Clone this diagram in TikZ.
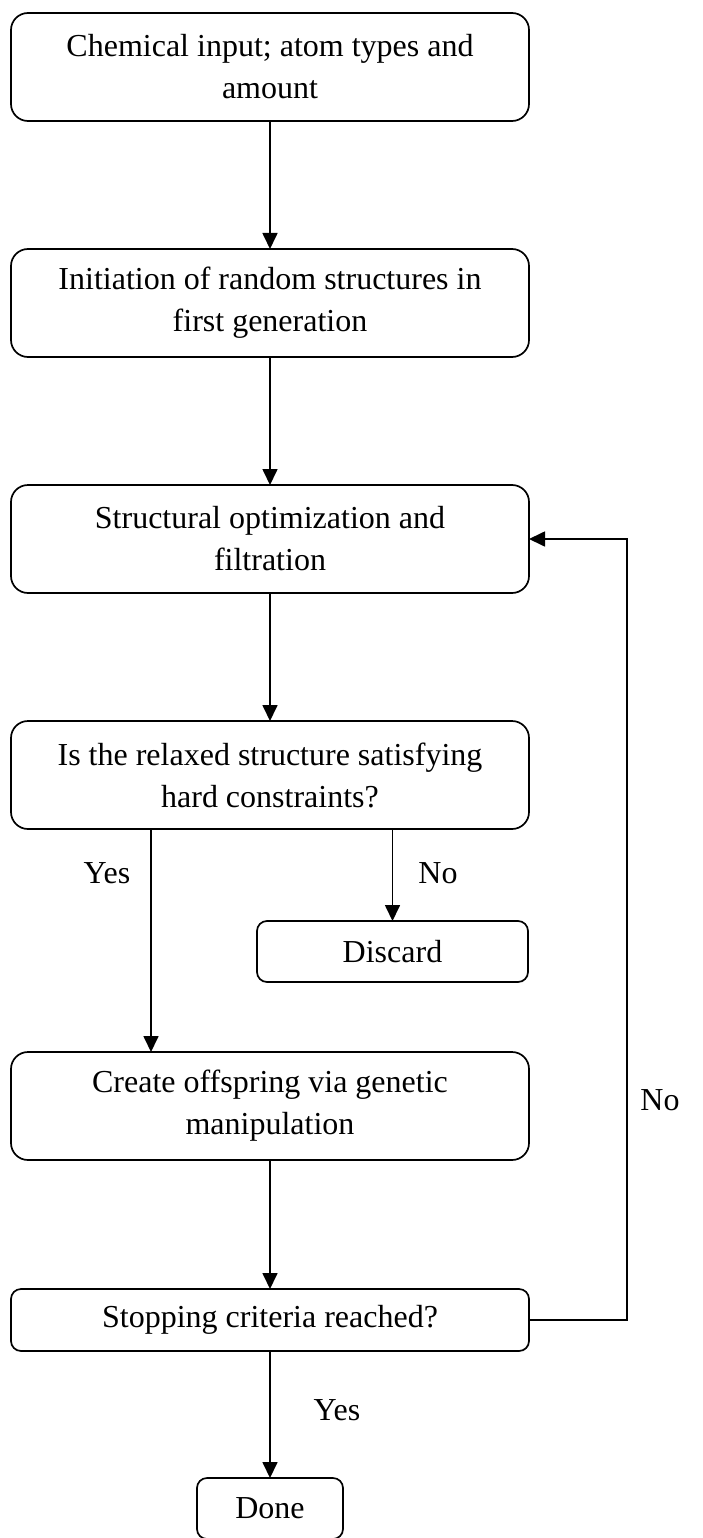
\documentclass[tikz,border=0pt]{standalone}
\usepackage{fontspec}
\setmainfont{Liberation Serif}
\usetikzlibrary{positioning}
\usetikzlibrary{chains,arrows.meta}
\tikzset{
  every node/.style={font=\fontsize{32pt}{42pt}\selectfont, outer sep=0pt},
  procbox/.style={draw, line width=1.7pt, rounded corners=17pt, align=center,
    minimum width=518pt, minimum height=108pt, inner sep=0pt},
  smallbox/.style={draw, line width=1.7pt, rounded corners=10pt, align=center,
    minimum height=61pt, inner sep=0pt},
  arr/.style={line width=1.7pt, -{Triangle[length=16pt,width=15pt]}}
}
\begin{document}
\begin{tikzpicture}[x=1pt, y=1pt, start chain=1 going below, node distance=128pt]
  \useasboundingbox (0,0) rectangle (703,-1538);

  \node [on chain=1, procbox] (b1) at (270,-67) {Chemical input; atom types and\\amount};
  \foreach \name/\txt in {b2/{Initiation of random structures in\\first generation},b3/{Structural optimization and\\filtration},b4/{Is the relaxed structure satisfying\\hard constraints?}} {
    \node [on chain=1, procbox] (\name) {\txt};
  }

  \node [procbox, below=223pt of b4] (b5) {Create offspring via genetic\\manipulation};
  \node [procbox, minimum height=62pt, rounded corners=10pt, below=129pt of b5] (stop) {Stopping criteria reached?};
  \node [smallbox, minimum width=146pt, below=127pt of stop] (done) {Done};
  \node [smallbox, minimum width=271pt] (discard) at (392.5,-951.5) {Discard};
  \coordinate (yesx) at (151,0);

  \draw [arr] (b1) -- (b2);
  \draw [arr] (b2) -- (b3);
  \draw [arr] (b3) -- (b4);
  \draw [arr] (b4.south -| yesx) -- (b5.north -| yesx);
  \draw [arr] (b4.south -| discard) -- (discard);
  \draw [arr] (b5) -- (stop);
  \draw [arr] (stop) -- (done);
  \draw [arr] (stop.east) -- ++(98pt,0) |- (b3.east);

  % branch labels
  \node (yes1) at (107,-873) {Yes};
  \node (no1) at (438,-873) {No};
  \node (no2) at (660,-1100) {No};
  \node (yes2) at (337,-1410) {Yes};
\end{tikzpicture}
\end{document}
